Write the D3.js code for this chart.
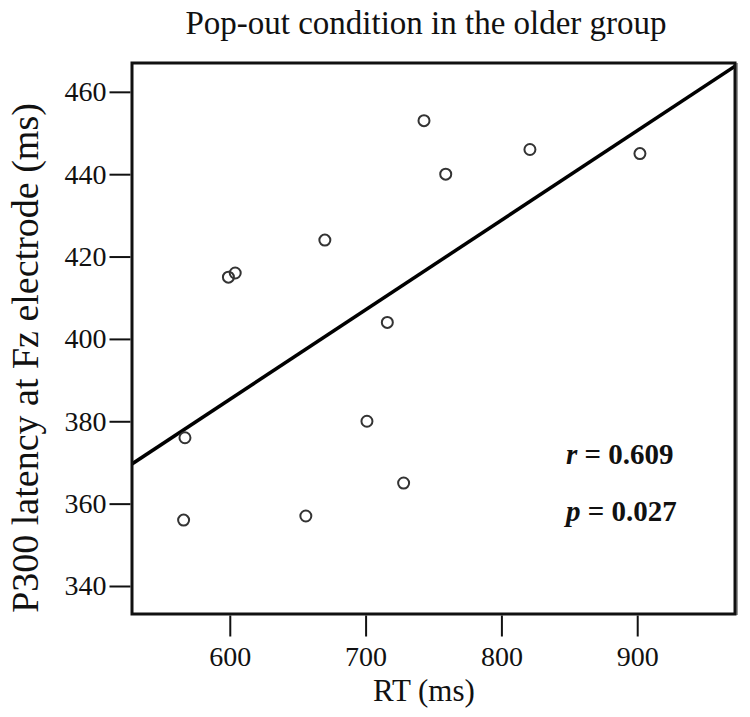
<!DOCTYPE html>
<html lang="en">
<head>
    <meta charset="utf-8">
    <title>Pop-out condition in the older group</title>
    <script src="https://d3js.org/d3.v7.min.js"></script>
    <style>
        body { margin: 0; background: #fff; }
        text { font-family: "Liberation Serif", "Times New Roman", serif; fill: #111; }
        .tick text { font-size: 28px; }
        .tick line { stroke: #111; stroke-width: 2; }
    </style>
</head>
<body>
<div id="chart"></div>
<script>
    // RT (ms) and P300 latency (ms)
    var rt      = [566, 567, 599, 604, 656, 670, 701, 716, 728, 743, 759, 821, 902];
    var latency = [356, 376, 415, 416, 357, 424, 380, 404, 365, 453, 440, 446, 445];

    var xTicks = [600, 700, 800, 900];
    var yTicks = [340, 360, 380, 400, 420, 440, 460];
    var stats = ["0.609", "0.027"];

    var w = 750, h = 717;
    var m = { left: 132, top: 63, right: 735, bottom: 614 };

    var x = d3.scaleLinear().domain([528, 972]).range([m.left, m.right]);
    var y = d3.scaleLinear().domain([333.2, 467]).range([m.bottom, m.top]);

    var svg = d3.select("#chart").append("svg")
        .attr("width", w)
        .attr("height", h);

    // least squares fit of the points
    var mx = d3.mean(rt), my = d3.mean(latency);
    var sxy = d3.sum(rt, function (d, i) { return (d - mx) * (latency[i] - my); });
    var sxx = d3.sum(rt, function (d) { return (d - mx) * (d - mx); });
    var slope = sxy / sxx;
    var icpt = my - slope * mx;

    svg.append("clipPath").attr("id", "clip")
        .append("rect")
        .attr("x", m.left).attr("y", m.top)
        .attr("width", m.right - m.left).attr("height", m.bottom - m.top);

    svg.append("line")
        .attr("clip-path", "url(#clip)")
        .attr("x1", x(528)).attr("y1", y(icpt + slope * 528))
        .attr("x2", x(972)).attr("y2", y(icpt + slope * 972))
        .attr("stroke", "#000")
        .attr("stroke-width", 3.5);

    // frame, with the grey edge on the right
    svg.append("line")
        .attr("x1", m.right + 2).attr("x2", m.right + 2)
        .attr("y1", m.top).attr("y2", m.bottom + 1)
        .attr("stroke", "#999").attr("stroke-width", 2);
    svg.append("rect")
        .attr("x", m.left).attr("y", m.top)
        .attr("width", m.right - m.left).attr("height", m.bottom - m.top)
        .attr("fill", "none").attr("stroke", "#111").attr("stroke-width", 3);

    svg.selectAll("circle.pt")
        .data(rt)
        .enter()
        .append("circle")
        .attr("class", "pt")
        .attr("cx", function (d) { return x(d); })
        .attr("cy", function (d, i) { return y(latency[i]); })
        .attr("r", 5.5)
        .attr("fill", "none")
        .attr("stroke", "#333")
        .attr("stroke-width", 2);

    var xAxis = svg.append("g")
        .attr("transform", "translate(0," + (m.bottom + 1.5) + ")")
        .call(d3.axisBottom(x).tickValues(xTicks).tickSize(21).tickPadding(10).tickSizeOuter(0));
    var yAxis = svg.append("g")
        .attr("transform", "translate(" + (m.left - 1.5) + ",0)")
        .call(d3.axisLeft(y).tickValues(yTicks).tickSize(21).tickPadding(3).tickSizeOuter(0));
    xAxis.select(".domain").remove();
    yAxis.select(".domain").remove();
    svg.selectAll(".tick text").attr("font-family", null).attr("font-size", null);

    svg.append("text")
        .attr("x", 426).attr("y", 34)
        .attr("text-anchor", "middle")
        .style("font-size", "33px")
        .text("Pop-out condition in the older group");

    svg.append("text")
        .attr("x", 424).attr("y", 701)
        .attr("text-anchor", "middle")
        .style("font-size", "31px")
        .text("RT (ms)");

    svg.append("text")
        .attr("transform", "translate(38,358) rotate(-90)")
        .attr("text-anchor", "middle")
        .style("font-size", "38px")
        .text("P300 latency at Fz electrode (ms)");

    // r and p in the lower right
    var labels = ["r", "p"];
    svg.selectAll("text.stat")
        .data(stats)
        .enter()
        .append("text")
        .attr("class", "stat")
        .attr("x", 566)
        .attr("y", function (d, i) { return 464 + i * 57; })
        .style("font-size", "29px")
        .style("font-weight", "bold")
        .each(function (d, i) {
            var t = d3.select(this);
            t.append("tspan").style("font-style", "italic").text(labels[i]);
            t.append("tspan").text(" = " + d);
        });
</script>
</body>
</html>
